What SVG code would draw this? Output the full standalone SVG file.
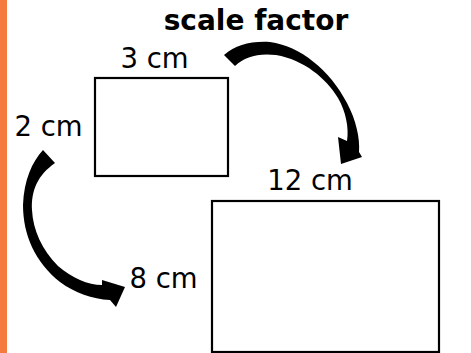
<svg xmlns="http://www.w3.org/2000/svg" width="471" height="353" viewBox="0 0 471 353">
<style>
.lbl{font-family:"DejaVu Sans","Verdana",sans-serif;font-size:27.5px;fill:#000;text-anchor:middle}
.title{font-family:"DejaVu Sans","Verdana",sans-serif;font-size:28px;font-weight:bold;fill:#000;text-anchor:middle}
.box{fill:#fff;stroke:#000;stroke-width:2.2}
.arr{fill:#000;stroke:none}
</style>
<rect x="0" y="0" width="471" height="353" fill="#fff"/>
<rect x="0" y="0" width="7" height="353" fill="#F47A3E"/>
<text class="title" x="256" y="30">scale factor</text>
<g id="small-rect">
<rect class="box" x="95" y="78" width="133" height="98"/>
<text class="lbl" x="154.5" y="68">3 cm</text>
<text class="lbl" x="48.5" y="136">2 cm</text>
</g>
<g id="large-rect">
<rect class="box" x="212" y="201" width="227" height="151"/>
<text class="lbl" x="310" y="190">12 cm</text>
<text class="lbl" x="163.5" y="288">8 cm</text>
</g>
<g id="connectors">
<path class="arr" d="M224,55 C236,45 250,41 270,42 C300,46 330,70 347,103 C356,120 360,138 359,152 L362,157 L341,164 L338,137 L347,141 C349,128 346,112 338,98 C326,78 304,60 276,55 C257,53 245,57 235,66 Z"/>
<path class="arr" d="M43,150 C32,162 24,180 23,205 C23,235 35,262 60,282 C75,293 92,299 110,300 L116,307 L125,287 L102,280 L102,285 C88,285 72,278 58,266 C42,250 33,230 32,210 C31,190 38,175 55,163 Z"/>
</g>
</svg>
